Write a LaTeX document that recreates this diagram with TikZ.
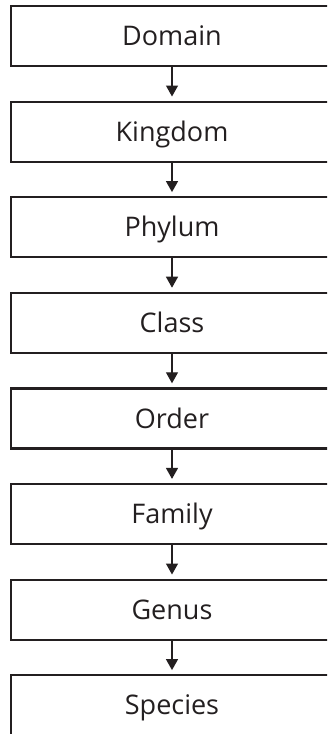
\documentclass[tikz,border=0pt]{standalone}
\usepackage{fontspec}
\setmainfont{Open Sans}
\usetikzlibrary{arrows.meta}
\definecolor{ink}{HTML}{231F20}
\begin{document}
\begin{tikzpicture}[x=1pt,y=1pt,
  rank/.style={draw=ink, line width=2.2pt, minimum width=322pt, minimum height=60pt,
    inner sep=0pt, text height=19.5pt, text depth=0pt,
    font=\fontsize{27}{30}\selectfont, text=ink},
  link/.style={draw=ink, line width=1.3pt, -{Triangle[width=12pt,length=11pt]}, shorten >=4pt}]
\useasboundingbox (0,0) rectangle (327,-734);
\clip (0,0) rectangle (327,-734);
\node[rank] (dom)  at (172,-36)    {Domain};
\node[rank] (king) at (172,-131.6) {Kingdom};
\node[rank] (phy)  at (172,-227.2) {Phylum};
\node[rank] (cls)  at (172,-322.8) {Class};
\node[rank] (ord)  at (172,-418.4) {Order};
\node[rank] (fam)  at (172,-514)   {Family};
\node[rank] (gen)  at (172,-609.6) {Genus};
\node[rank] (spe)  at (172,-705.2) {Species};
\draw[link] (dom) -- (king);
\draw[link] (king) -- (phy);
\draw[link] (phy) -- (cls);
\draw[link] (cls) -- (ord);
\draw[link] (ord) -- (fam);
\draw[link] (fam) -- (gen);
\draw[link] (gen) -- (spe);
\end{tikzpicture}
\end{document}
